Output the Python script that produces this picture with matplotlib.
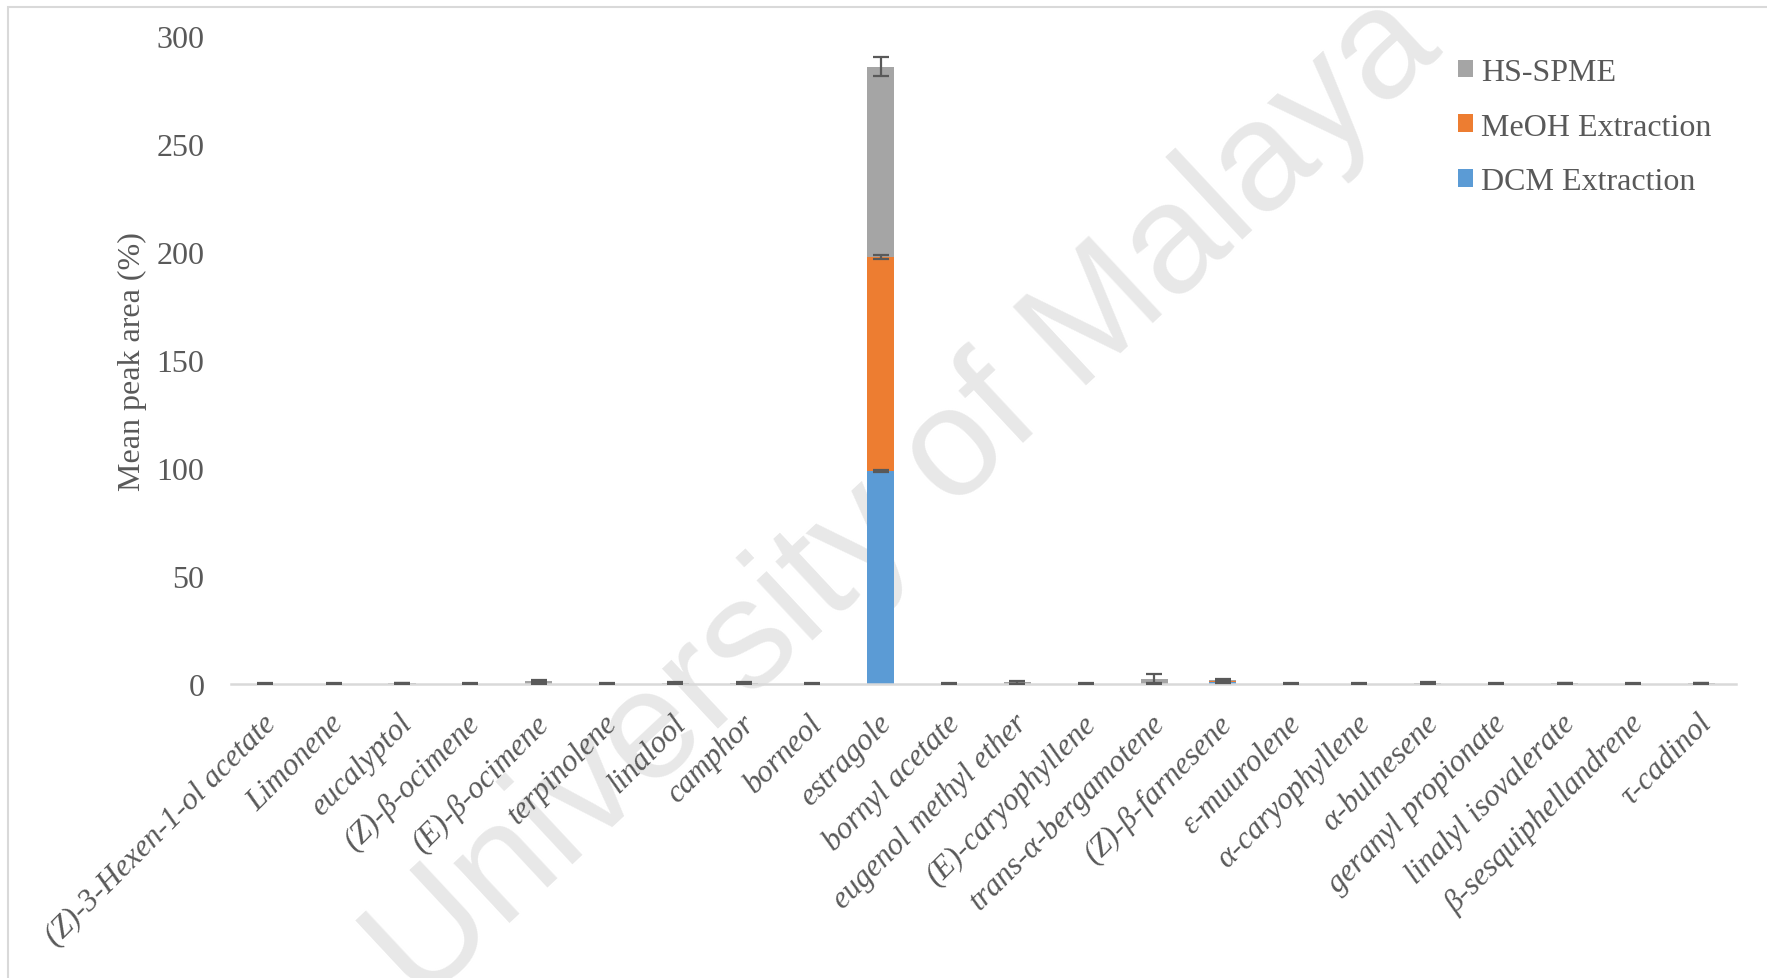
import matplotlib
matplotlib.use("Agg")
import matplotlib.pyplot as plt
import matplotlib.transforms as mtransforms
import numpy as np
from matplotlib.patches import Rectangle

# compounds on the x axis
compostos = ['(Z)-3-Hexen-1-ol acetate', 'Limonene', 'eucalyptol', '(Z)-β-ocimene',
             '(E)-β-ocimene', 'terpinolene', 'linalool', 'camphor', 'borneol',
             'estragole', 'bornyl acetate', 'eugenol methyl ether', '(E)-caryophyllene',
             'trans-α-bergamotene', '(Z)-β-farnesene', 'ε-muurolene', 'α-caryophyllene',
             'α-bulnesene', 'geranyl propionate', 'linalyl isovalerate',
             'β-sesquiphellandrene', 'τ-cadinol']

# mean peak area (%) per method
dcm = [0, 0, 0, 0, 0, 0, 0, 0, 0, 98.6, 0, 0, 0, 0, 0.8, 0, 0, 0, 0, 0, 0, 0]
meoh = [0, 0, 0, 0, 0, 0, 0, 0, 0, 99.1, 0, 0, 0, 0, 0.7, 0, 0, 0, 0, 0, 0, 0]
hs = [0.2, 0.2, 0.4, 0.2, 1.3, 0.2, 0.5, 0.5, 0.2, 88.2, 0.2, 0.8, 0.2, 2.5, 0.3,
      0.2, 0.2, 0.5, 0.2, 0.4, 0.2, 0.4]

# error bars (sd)
err_dcm = [0, 0, 0, 0, 0, 0, 0, 0, 0, 0.3, 0, 0, 0, 0, 0.3, 0, 0, 0, 0, 0, 0, 0]
err_meoh = [0, 0, 0, 0, 0, 0, 0, 0, 0, 1.0, 0, 0, 0, 0, 0.3, 0, 0, 0, 0, 0, 0, 0]
err_hs = [0.05, 0.05, 0.1, 0.05, 0.6, 0.05, 0.2, 0.2, 0.05, 4.5, 0.05, 0.6, 0.05, 2.2,
          0.5, 0.05, 0.05, 0.2, 0.05, 0.1, 0.05, 0.1]

series = ['DCM Extraction', 'MeOH Extraction', 'HS-SPME']
cores = ['#5B9BD5', '#ED7D31', '#A5A5A5']

cinza_txt = '#595959'
plt.rcParams['font.family'] = ['Liberation Serif', 'DejaVu Serif']

fig = plt.figure(figsize=(17.67, 9.79), dpi=100)
ax = fig.add_axes([0.1307, 0.3003, 0.8515, 0.6617])
ax.set_facecolor('none')

# borda do grafico
fig.patches.append(Rectangle((8 / 1767, -0.2), 1.2, 1.2 - 8 / 979, transform=fig.transFigure,
                             fill=False, edgecolor='#d9d9d9', linewidth=1.5, zorder=-2))

# marca d'agua
fig.text(0.512, 0.49, 'University of Malaya', rotation=43, fontsize=112,
         family='Liberation Sans', color='#e8e8e8', ha='center', va='center',
         rotation_mode='anchor', zorder=-1)

x = np.arange(len(compostos))
dcm = np.array(dcm)
meoh = np.array(meoh)
hs = np.array(hs)
largura = 0.4

ax.bar(x, dcm, largura, color=cores[0], label=series[0], zorder=2)
ax.bar(x, meoh, largura, bottom=dcm, color=cores[1], label=series[1], zorder=2)
ax.bar(x, hs, largura, bottom=dcm + meoh, color=cores[2], label=series[2], zorder=2)

kw = dict(fmt='none', ecolor=cinza_txt, elinewidth=1.6, capsize=6, capthick=1.6, zorder=3)
ax.errorbar(x, dcm, yerr=err_dcm, **kw)
ax.errorbar(x, dcm + meoh, yerr=err_meoh, **kw)
ax.errorbar(x, dcm + meoh + hs, yerr=err_hs, **kw)

ax.set_xlim(-0.5, len(compostos) - 0.5)
ax.set_ylim(0, 300)
ax.set_yticks(np.arange(0, 301, 50))
ax.tick_params(axis='y', length=0, pad=19, labelsize=23, labelcolor=cinza_txt)
ax.tick_params(axis='x', length=0, pad=25)
ax.set_xticks(x)
ax.set_xticklabels(compostos, rotation=45, ha='right', va='center', rotation_mode='anchor',
                   fontsize=22.5, color=cinza_txt, style='italic')
desloc = mtransforms.ScaledTranslation(6 / 100, 0, fig.dpi_scale_trans)
for t in ax.get_xticklabels():
    t.set_transform(t.get_transform() + desloc)
for s in ['top', 'right', 'left']:
    ax.spines[s].set_visible(False)
ax.spines['bottom'].set_color('#d9d9d9')
ax.spines['bottom'].set_linewidth(1.8)

ax.set_ylabel('Mean peak area (%)', fontsize=23, color=cinza_txt)
ax.yaxis.set_label_coords(-0.056, 0.5)

h, l = ax.get_legend_handles_labels()
ax.legend(h[::-1], l[::-1], loc='upper left', bbox_to_anchor=(1458 / 1767, 1 - 59 / 979),
          bbox_transform=fig.transFigure, frameon=False, fontsize=23, labelcolor=cinza_txt,
          handlelength=0.47, handleheight=0.47, handletextpad=0.25, labelspacing=0.8,
          borderpad=0, borderaxespad=0)

fig.savefig('out.png', dpi=100)
